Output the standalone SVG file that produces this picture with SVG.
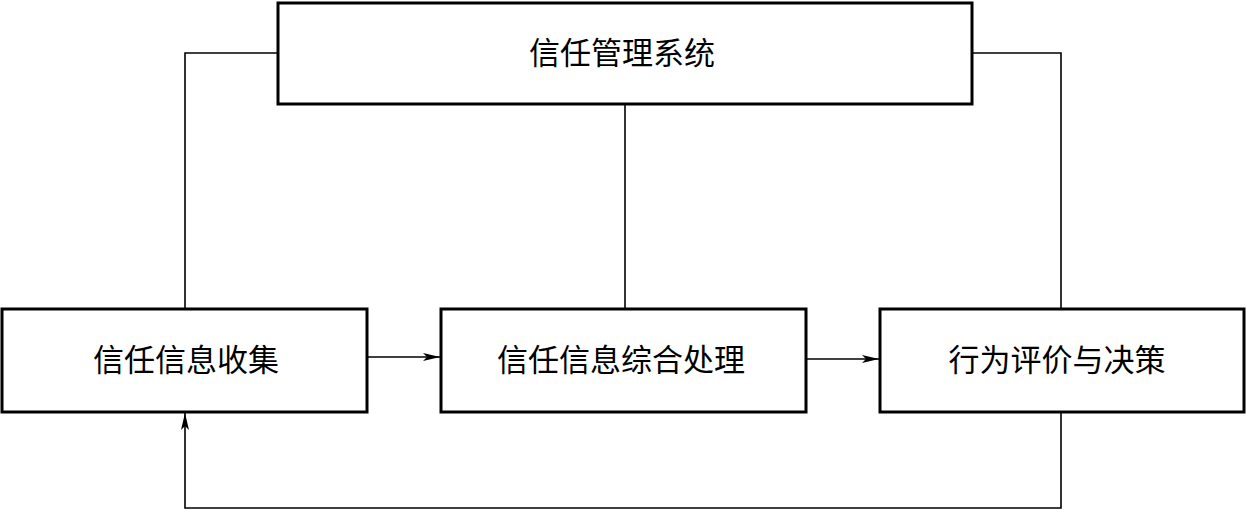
<svg xmlns="http://www.w3.org/2000/svg" width="1246" height="510" viewBox="0 0 1246 510">
<style>
.box{fill:#fff;stroke:#000;stroke-width:3}
.lbl{font-family:"Liberation Serif","Noto Sans CJK SC",serif;font-size:31px;fill:#000;text-anchor:middle;dominant-baseline:central}
.con{fill:none;stroke:#000;stroke-width:1.6}
</style>
<defs>
<marker id="arr" markerUnits="userSpaceOnUse" markerWidth="18" markerHeight="10" refX="17" refY="5" orient="auto">
<path d="M0,1 L17,5 L0,9 L4,5 Z" fill="#000"/>
</marker>
</defs>
<rect width="1246" height="510" fill="#fff"/>
<g id="connectors">
<polyline class="con" points="278,53 185,53 185,308"/>
<polyline class="con" points="972,53 1061,53 1061,308"/>
<line class="con" x1="625" y1="104" x2="625" y2="308"/>
<line class="con" x1="367" y1="357" x2="440" y2="357" marker-end="url(#arr)"/>
<line class="con" x1="806" y1="359" x2="879" y2="359" marker-end="url(#arr)"/>
<polyline class="con" points="1061,412 1061,508 185,508 185,413" marker-end="url(#arr)"/>
</g>
<g id="node-top">
<rect class="box" x="278" y="3" width="694" height="101"/>
<text class="lbl" x="622" y="53">信任管理系统</text>
</g>
<g id="node-collect">
<rect class="box" x="2" y="309" width="365" height="103"/>
<text class="lbl" x="186" y="360">信任信息收集</text>
</g>
<g id="node-process">
<rect class="box" x="441" y="309" width="365" height="103"/>
<text class="lbl" x="621" y="360">信任信息综合处理</text>
</g>
<g id="node-decide">
<rect class="box" x="880" y="309" width="364" height="103"/>
<text class="lbl" x="1057" y="360">行为评价与决策</text>
</g>
</svg>
